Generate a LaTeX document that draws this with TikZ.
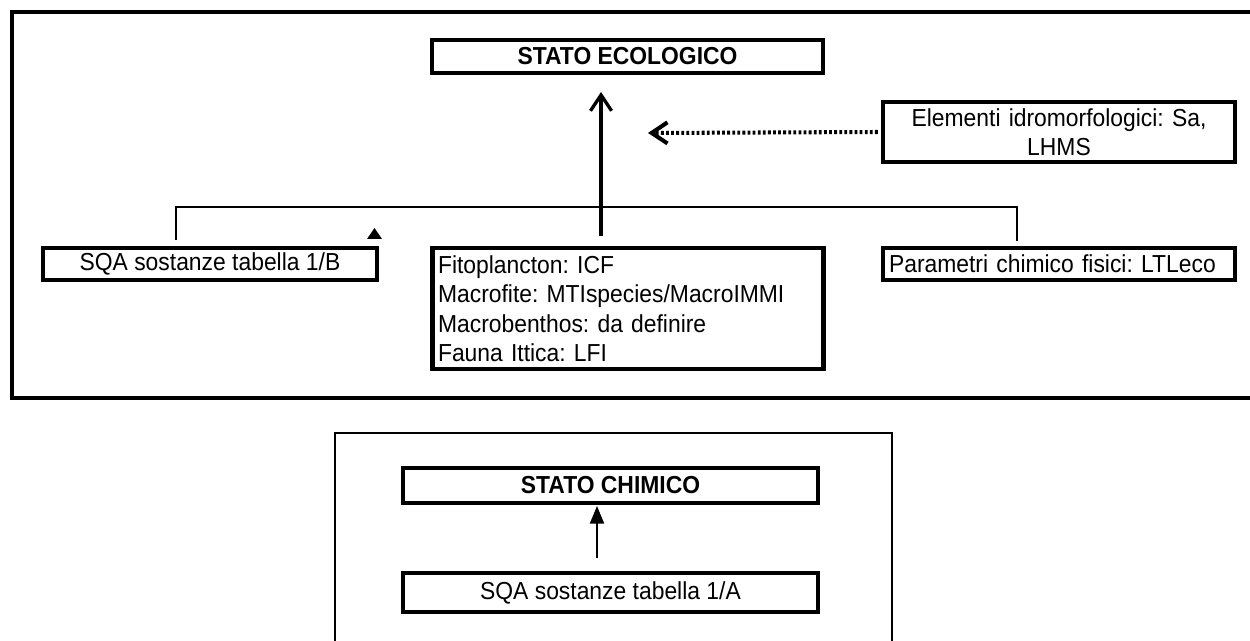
\documentclass[tikz,border=0pt]{standalone}
\usepackage{fontspec}
\setmainfont{Liberation Sans}[FakeStretch=0.93]
\usetikzlibrary{arrows.meta}
\tikzset{
  box/.style={draw, rectangle, line width=2.6pt, inner sep=1pt, font=\fontsize{14}{16.8}\selectfont},
  frame/.style={line width=2.5pt},
  thinframe/.style={line width=1.4pt},
  link/.style={line width=1.5pt},
  mainarrow/.style={line width=1.9pt, -{Straight Barb[length=9pt,width=12pt]}},
  dotarrow/.style={line width=2.3pt, dash pattern=on 1.6pt off 1.3pt, -{Straight Barb[length=9pt,width=12pt]}},
  thinarrow/.style={line width=1pt, -{Triangle[length=10pt,width=8pt]}}
}

\begin{document}
\frenchspacing
\begin{tikzpicture}[x=0.02cm,y=-0.02cm]
  \useasboundingbox (0,0) rectangle (1250,641);
  \clip (0,0) rectangle (1250,641);
  \fill[white] (0,0) rectangle (1250,641);

  % stato ecologico
  \draw[frame] (12,12) rectangle (1262,398);
  \node[box, font=\fontsize{14}{16.8}\selectfont\bfseries, minimum width=7.82cm, minimum height=0.66cm] (eco) at (627.5,56.5) {STATO ECOLOGICO};
  \node[box, align=center, text width=6.8cm, minimum width=7.04cm, minimum height=1.2cm] (idro) at (1059,132) {Elementi idromorfologici: Sa,\\LHMS};
  \node[box, minimum width=6.68cm, minimum height=0.64cm] (sqab) at (210,264) {SQA sostanze tabella 1/B};
  \node[box, align=left, inner xsep=3pt, text width=7.6cm, minimum width=7.8cm, minimum height=2.42cm] (bio) at (628,308.5)
    {Fitoplancton: ICF\\Macrofite: MTIspecies/MacroIMMI\\Macrobenthos: da definire\\Fauna Ittica: LFI};
  \node[box, align=left, inner xsep=3pt, text width=6.8cm, minimum width=7.04cm, minimum height=0.64cm] (chim) at (1059,264) {Parametri chimico fisici: LTLeco};

  \coordinate (tipA) at (601,92);
  \coordinate (tipB) at (648,133);
  \coordinate (barL) at (176,207);
  \coordinate (barR) at (1017,207);
  \draw[link] ([yshift=0.12cm]sqab.north -| barL) -- (barL) -- (barR) -- ([yshift=0.1cm]chim.north -| barR);
  \draw[mainarrow] ([yshift=0.2cm]bio.north -| tipA) -- (tipA);
  \draw[dotarrow] ([xshift=-0.06cm]idro.west) -- (tipB);
  \fill (367,239) -- (374.5,228) -- (382,239) -- cycle;

  % stato chimico
  \draw[thinframe] (335,433) rectangle (892,660);
  \node[box, font=\fontsize{14}{16.8}\selectfont\bfseries, minimum width=8.3cm, minimum height=0.7cm] (schim) at (610.5,485.5) {STATO CHIMICO};
  \node[box, minimum width=8.3cm, minimum height=0.78cm] (sqaa) at (610.5,592.5) {SQA sostanze tabella 1/A};
  \coordinate (tipC) at (597,506);
  \draw[thinarrow] ([yshift=0.26cm]sqaa.north -| tipC) -- (tipC);
\end{tikzpicture}
\end{document}
